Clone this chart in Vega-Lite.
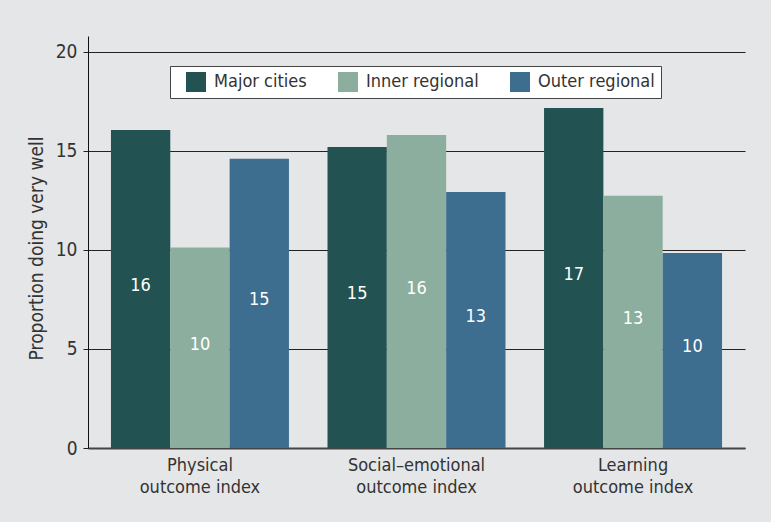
{
  "$schema": "https://vega.github.io/schema/vega-lite/v6.json",
  "autosize": {"type": "none"},
  "width": 657,
  "height": 412,
  "padding": {"left": 88, "top": 36, "right": 26, "bottom": 74},
  "background": "#e5e6e8",
  "config": {
    "font": "DejaVu Sans Condensed, sans-serif",
    "view": {"stroke": null},
    "axis": {"labelFont": "DejaVu Sans Condensed, sans-serif", "titleFont": "DejaVu Sans Condensed, sans-serif"},
    "legend": {"labelFont": "DejaVu Sans Condensed, sans-serif"}
  },
  "data": {
    "values": [
      {"measure": "Physical outcome index", "area": "Major cities", "value": 16.06},
      {"measure": "Physical outcome index", "area": "Inner regional", "value": 10.12},
      {"measure": "Physical outcome index", "area": "Outer regional", "value": 14.6},
      {"measure": "Social–emotional outcome index", "area": "Major cities", "value": 15.2},
      {"measure": "Social–emotional outcome index", "area": "Inner regional", "value": 15.8},
      {"measure": "Social–emotional outcome index", "area": "Outer regional", "value": 12.93},
      {"measure": "Learning outcome index", "area": "Major cities", "value": 17.17},
      {"measure": "Learning outcome index", "area": "Inner regional", "value": 12.73},
      {"measure": "Learning outcome index", "area": "Outer regional", "value": 9.85}
    ]
  },
  "encoding": {
    "x": {
      "field": "measure",
      "type": "nominal",
      "sort": ["Physical outcome index", "Social–emotional outcome index", "Learning outcome index"],
      "scale": {"paddingInner": 0.178, "paddingOuter": 0.106},
      "axis": {
        "title": null,
        "labelAngle": 0,
        "labelFontSize": 18,
        "labelColor": "#333333",
        "labelLineHeight": 22,
        "labelPadding": 8,
        "ticks": false,
        "tickSize": 0,
        "domainColor": "#444444",
        "domainWidth": 2,
        "labelExpr": "split(replace(datum.label, ' outcome', '|outcome'), '|')"
      }
    },
    "xOffset": {
      "field": "area",
      "type": "nominal",
      "sort": ["Major cities", "Inner regional", "Outer regional"],
      "scale": {"paddingInner": 0, "paddingOuter": 0}
    }
  },
  "layer": [
    {
      "mark": {"type": "bar"},
      "encoding": {
        "y": {
          "field": "value",
          "type": "quantitative",
          "scale": {"domain": [0, 20.8], "nice": false},
          "axis": {
            "values": [0, 5, 10, 15, 20],
            "title": "Proportion doing very well",
            "titleFontSize": 19,
            "titleFontWeight": "normal",
            "titleColor": "#333333",
            "titlePadding": 9,
            "titleY": 212,
            "labelFontSize": 19,
            "labelColor": "#333333",
            "labelPadding": 6,
            "tickSize": 5,
            "tickColor": "#222222",
            "domainColor": "#111111",
            "domainWidth": 1,
            "grid": true,
            "gridColor": "#222222",
            "gridWidth": 1.2
          }
        },
        "color": {
          "field": "area",
          "type": "nominal",
          "sort": ["Major cities", "Inner regional", "Outer regional"],
          "scale": {"domain": ["Major cities", "Inner regional", "Outer regional"], "range": ["#225352", "#8cae9e", "#3d6e8f"]},
          "legend": {
            "orient": "none",
            "direction": "horizontal",
            "legendX": 82,
            "legendY": 30,
            "title": "\u00a0",
            "titleOrient": "left",
            "titleFontSize": 10,
            "titlePadding": 10,
            "padding": 6,
            "fillColor": "white",
            "strokeColor": "#444444",
            "symbolType": "square",
            "symbolSize": 400,
            "symbolStrokeWidth": 0,
            "labelFontSize": 18,
            "labelColor": "#333333",
            "labelOffset": 8,
            "columnPadding": 31,
            "labelLimit": 300
          }
        }
      }
    },
    {
      "transform": [{"calculate": "datum.value / 2", "as": "mid"}],
      "mark": {"type": "text", "color": "white", "fontSize": 18, "baseline": "middle", "dy": -3},
      "encoding": {
        "y": {"field": "mid", "type": "quantitative"},
        "text": {"field": "value", "type": "quantitative", "format": ".0f"}
      }
    }
  ]
}
